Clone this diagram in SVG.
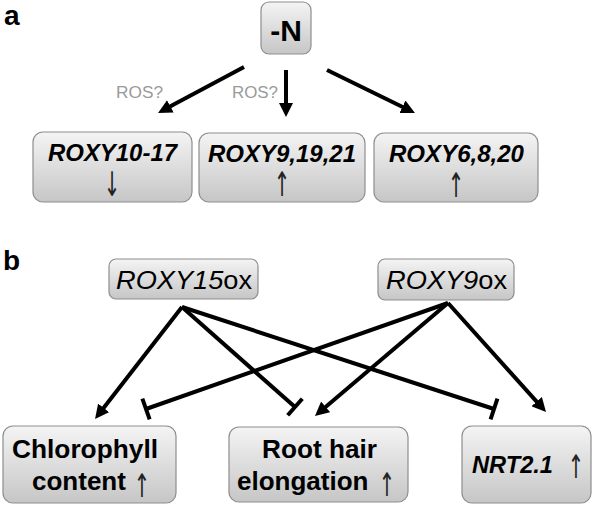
<svg xmlns="http://www.w3.org/2000/svg" width="596" height="507" viewBox="0 0 596 507">
<defs>
<linearGradient id="g" x1="0" y1="0" x2="0" y2="1">
<stop offset="0" stop-color="#f4f4f4"/>
<stop offset="1" stop-color="#c6c6c6"/>
</linearGradient>
<marker id="ah" viewBox="0 0 14 14" markerWidth="14" markerHeight="14" refX="2" refY="7" orient="auto" markerUnits="userSpaceOnUse">
<path d="M0,0 L14,7 L0,14 z" fill="#000"/>
</marker>
<marker id="tb" viewBox="-3 -13 6 26" markerWidth="6" markerHeight="26" refX="0" refY="0" orient="auto" markerUnits="userSpaceOnUse">
<path d="M0,-11 V11" stroke="#000" stroke-width="4"/>
</marker>
</defs>
<style>
.box{fill:url(#g);stroke:#8e8e8e;stroke-width:1.2}
.t{font-family:"Liberation Sans",Arial,sans-serif;fill:#000}
.bi{font-weight:bold;font-style:italic}
.b{font-weight:bold}
.arr{font-family:"DejaVu Sans",sans-serif;font-size:26px;font-weight:normal;font-style:normal;fill:#222;text-anchor:middle}
.ros{font-family:"Liberation Sans",Arial,sans-serif;font-size:16px;fill:#9a9a9a}
.c{stroke:#000;stroke-width:4;fill:none}
.a{marker-end:url(#ah)}
.i{marker-end:url(#tb)}
.lab{font-family:"Liberation Sans",Arial,sans-serif;font-weight:bold;font-size:28px;fill:#000}
</style>
<rect width="596" height="507" fill="#fff"/>
<text class="lab" x="4" y="25">a</text>
<text class="lab" x="3" y="270">b</text>

<g id="connectors">
<line class="c a" x1="244" y1="67" x2="168.6" y2="107.3"/>
<line class="c a" x1="286" y1="70" x2="286" y2="105"/>
<line class="c a" x1="327" y1="70" x2="404.2" y2="107.7"/>
<text class="ros" x="116" y="98" textLength="47" lengthAdjust="spacingAndGlyphs">ROS?</text>
<text class="ros" x="232" y="98" textLength="46" lengthAdjust="spacingAndGlyphs">ROS?</text>
<line class="c a" x1="182" y1="307" x2="102.4" y2="409.5"/>
<line class="c i" x1="182" y1="307" x2="295" y2="407"/>
<line class="c i" x1="182" y1="307" x2="494" y2="409"/>
<line class="c i" x1="448" y1="303" x2="146" y2="409"/>
<line class="c a" x1="448" y1="303" x2="324.1" y2="408.2"/>
<line class="c a" x1="448" y1="303" x2="538" y2="403.1"/>
</g>

<g id="nN">
<rect class="box" x="261" y="2" width="50" height="52" rx="8"/>
<text class="t b" x="286" y="41" font-size="30" text-anchor="middle">-N</text>
</g>
<g id="nROXY10-17">
<rect class="box" x="33" y="132" width="159" height="70" rx="10"/>
<text class="t bi" x="48" y="161" font-size="23" textLength="129" lengthAdjust="spacingAndGlyphs">ROXY10-17</text>
<text class="arr" transform="translate(112,196) scale(0.75,1.3)">↓</text>
</g>
<g id="nROXY9-19-21">
<rect class="box" x="199" y="133" width="166" height="69" rx="10"/>
<text class="t bi" x="208" y="162" font-size="23" textLength="148" lengthAdjust="spacingAndGlyphs">ROXY9,19,21</text>
<text class="arr" transform="translate(282,196) scale(0.75,1.3)">↑</text>
</g>
<g id="nROXY6-8-20">
<rect class="box" x="374" y="133" width="164" height="69" rx="10"/>
<text class="t bi" x="389" y="162" font-size="23" textLength="135" lengthAdjust="spacingAndGlyphs">ROXY6,8,20</text>
<text class="arr" transform="translate(456,197) scale(0.75,1.3)">↑</text>
</g>

<g id="nROXY15ox">
<rect class="box" x="109" y="259" width="149" height="40" rx="7"/>
<text class="t" x="116" y="289" font-size="25" textLength="136" lengthAdjust="spacingAndGlyphs"><tspan font-style="italic">ROXY15</tspan>ox</text>
</g>
<g id="nROXY9ox">
<rect class="box" x="378" y="259" width="136" height="41" rx="7"/>
<text class="t" x="386" y="289" font-size="25" textLength="121" lengthAdjust="spacingAndGlyphs"><tspan font-style="italic">ROXY9</tspan>ox</text>
</g>

<g id="nChlorophyll">
<rect class="box" x="3" y="426" width="173" height="77" rx="10"/>
<text class="t b" x="12" y="458" font-size="26" textLength="146" lengthAdjust="spacingAndGlyphs">Chlorophyll</text>
<text class="t b" x="32" y="490" font-size="26">content</text>
<text class="arr" transform="translate(142,497) scale(0.75,1.25)">↑</text>
</g>
<g id="nRootHair">
<rect class="box" x="229" y="427" width="179" height="75" rx="10"/>
<text class="t b" x="262" y="458" font-size="26" textLength="115" lengthAdjust="spacingAndGlyphs">Root hair</text>
<text class="t b" x="237" y="490" font-size="26">elongation</text>
<text class="arr" transform="translate(387,496) scale(0.75,1.25)">↑</text>
</g>
<g id="nNRT">
<rect class="box" x="462" y="426" width="129" height="77" rx="10"/>
<text class="t bi" x="472" y="473" font-size="24" textLength="81" lengthAdjust="spacingAndGlyphs">NRT2.1</text>
<text class="arr" transform="translate(576,478) scale(0.75,1.25)">↑</text>
</g>
</svg>
